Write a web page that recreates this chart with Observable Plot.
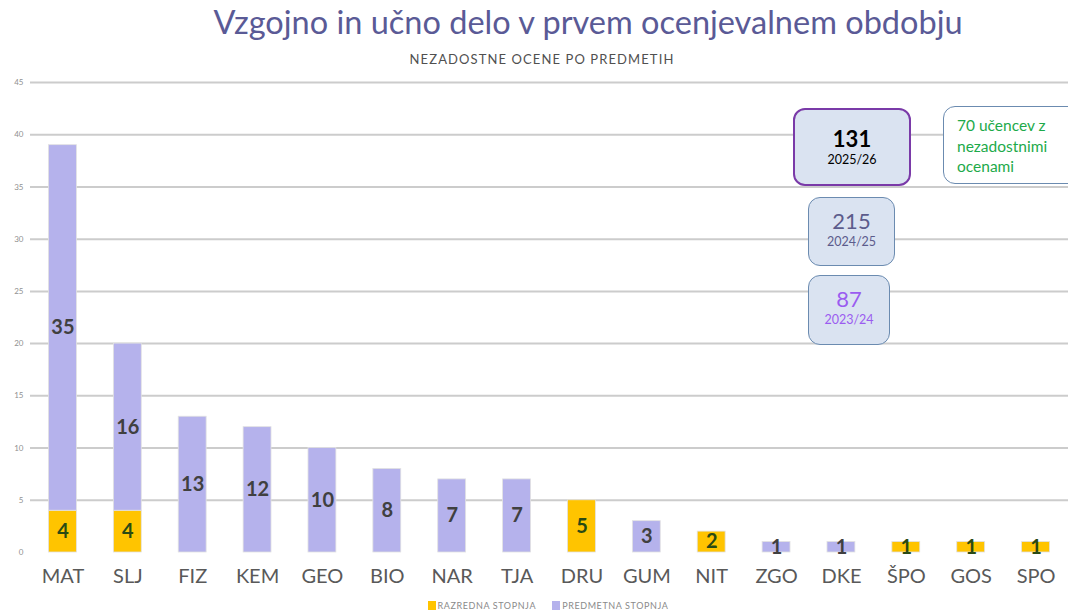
<!DOCTYPE html>
<html><head><meta charset="utf-8">
<script src="https://cdn.jsdelivr.net/npm/d3@7"></script>
<script src="https://cdn.jsdelivr.net/npm/@observablehq/plot@0.6"></script>
<style>
body{margin:0;background:#fff;font-family:Lato,"Open Sans",sans-serif;}
#wrap{position:relative;width:1068px;height:613px;overflow:hidden;}
#title{position:absolute;left:0;width:1176px;top:2px;text-align:center;font-size:32.5px;color:#5a5a96;}
#sub{position:absolute;left:0;width:1084px;top:51px;text-align:center;font-size:13px;letter-spacing:1.1px;color:#505050;}
#chart{position:absolute;left:0;top:70px;}
.box{position:absolute;box-sizing:border-box;border-radius:12px;text-align:center;}
#legend{position:absolute;top:600px;left:0;width:1096px;text-align:center;font-size:9px;letter-spacing:0.6px;color:#8a8a8a;}
#legend span.sw{display:inline-block;width:8px;height:9px;vertical-align:-1px;margin-right:2px;}
#legend span.it{margin:0 8px;}
</style></head>
<body><div id="wrap">
<div id="title"></div>
<div id="sub"></div>
<div id="chart"></div>
<div id="legend"></div>
</div>
<script>
const titleText = "Vzgojno in učno delo v prvem ocenjevalnem obdobju";
const subtitleText = "NEZADOSTNE OCENE PO PREDMETIH";
const subjects = ["MAT","SLJ","FIZ","KEM","GEO","BIO","NAR","TJA","DRU","GUM","NIT","ZGO","DKE","ŠPO","GOS","SPO"];
const razredna = [4,4,0,0,0,0,0,0,5,0,2,0,0,1,1,1];
const predmetna = [35,16,13,12,10,8,7,7,0,3,0,1,1,0,0,0];
const seriesNames = ["RAZREDNA STOPNJA","PREDMETNA STOPNJA"];
const seriesColors = ["#ffc400","#b5b2ec"];
const labelColors = ["#2a4a14","#404040"];
const yTicks = [0,5,10,15,20,25,30,35,40,45];
const totalsValues = ["131","215","87"];
const totalsYears = ["2025/26","2024/25","2023/24"];
const noteText = ["70 učencev z","nezadostnimi","ocenami"];

document.getElementById("title").textContent = titleText;
document.getElementById("sub").textContent = subtitleText;

const rows = [];
subjects.forEach((s,i)=>{
  if (razredna[i]>0) rows.push({subject:s, series:seriesNames[0], value:razredna[i]});
  if (predmetna[i]>0) rows.push({subject:s, series:seriesNames[1], value:predmetna[i]});
});

const labelMark = (k) => Plot.text(rows, Plot.stackY({
  x:"subject", y:"value", z:"series", order:seriesNames,
  text: d => d.series===seriesNames[k] ? String(d.value) : null,
  fill: labelColors[k], fontSize:20, fontWeight:"bold"
}));

const plot = Plot.plot({
  width:1068, height:520,
  marginLeft:30, marginRight:0, marginTop:12, marginBottom:38,
  style:{fontFamily:"Lato, 'Open Sans', sans-serif", background:"transparent"},
  x:{domain:subjects, paddingInner:0.57, paddingOuter:0.285, round:false, label:null},
  y:{domain:[0,45], label:null},
  color:{domain:seriesNames, range:seriesColors},
  marks:[
    Plot.ruleY(yTicks.filter(d=>d>0), {stroke:"#cccccc", strokeWidth:2}),
    Plot.axisY({ticks:yTicks, tickSize:0, tickPadding:7, fontSize:8, color:"#909090", label:null}),
    Plot.axisX({tickSize:0, tickPadding:16, fontSize:20, color:"#595959", label:null}),
    Plot.barY(rows, {x:"subject", y:"value", fill:"series", z:"series", order:seriesNames, stroke:"#e2e2e2", strokeWidth:0.8}),
    labelMark(0),
    labelMark(1)
  ]
});
document.getElementById("chart").appendChild(plot);

// annotation boxes
const wrap = document.getElementById("wrap");
const boxSpecs = [
  {l:793,t:108,w:118,h:78,border:"2px solid #7a3aa8",numColor:"#000",numWeight:"bold",yrColor:"#000"},
  {l:808,t:197,w:87,h:69,border:"1.5px solid #6b8bb0",numColor:"#5c5c8c",numWeight:"normal",yrColor:"#5c5c8c"},
  {l:808,t:275,w:82,h:70,border:"1.5px solid #6b8bb0",numColor:"#9a5cf0",numWeight:"normal",yrColor:"#9a5cf0"}
];
boxSpecs.forEach((b,i)=>{
  const d = document.createElement("div");
  d.className="box";
  Object.assign(d.style,{left:b.l+"px",top:b.t+"px",width:b.w+"px",height:b.h+"px",border:b.border,background:"#dae3f1",paddingTop:(i===0?"17px":"11px")});
  d.innerHTML = `<div style="font-size:22px;line-height:24px;font-weight:${b.numWeight};color:${b.numColor}">${totalsValues[i]}</div>`+
                `<div style="font-size:12.5px;line-height:17px;color:${b.yrColor}">${totalsYears[i]}</div>`;
  wrap.appendChild(d);
});
const note = document.createElement("div");
note.className="box";
Object.assign(note.style,{left:"943px",top:"106px",width:"140px",height:"78px",border:"1.5px solid #6b8bb0",background:"#fff",textAlign:"left",padding:"8px 0 0 13px",fontSize:"15.5px",lineHeight:"20.5px",color:"#1daa4a"});
note.innerHTML = noteText.join("<br>");
wrap.appendChild(note);

// legend
const lg = document.getElementById("legend");
lg.innerHTML = seriesNames.map((s,i)=>`<span class="it"><span class="sw" style="background:${seriesColors[i]}"></span>${s}</span>`).join("");
</script>
</body></html>
